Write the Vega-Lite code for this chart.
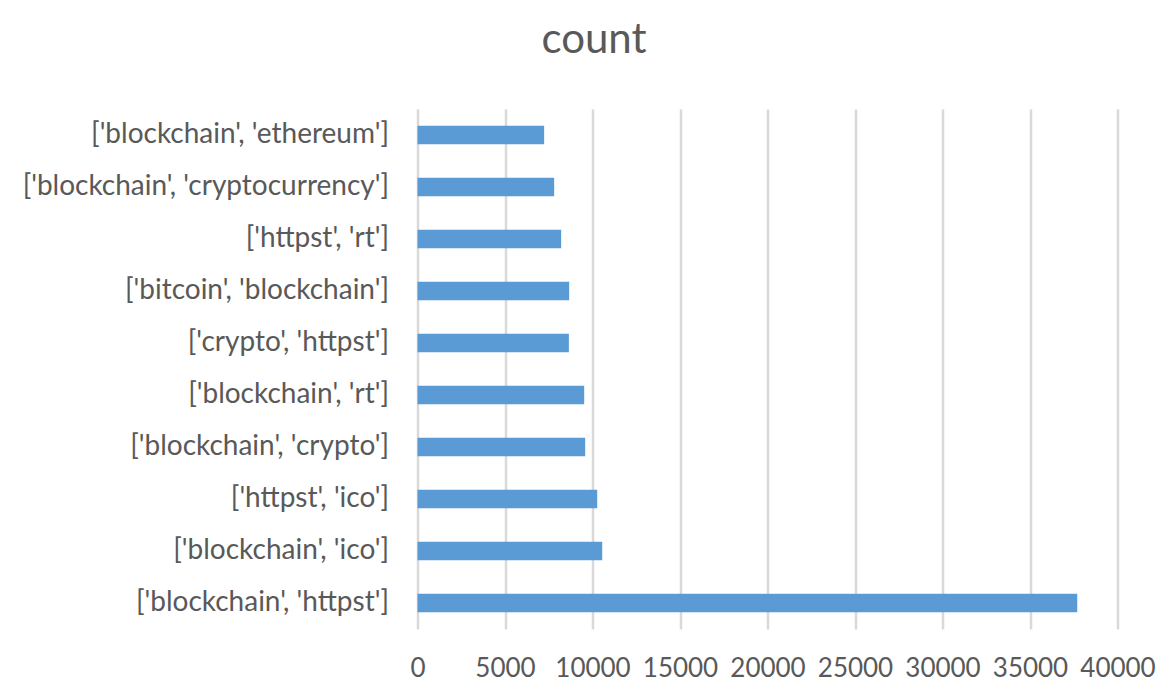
{
  "$schema": "https://vega.github.io/schema/vega-lite/v6.json",
  "width": 700,
  "height": 520,
  "autosize": "none",
  "padding": {"left": 417.5, "top": 109, "right": 56, "bottom": 61},
  "background": "white",
  "title": {
    "text": "count",
    "fontSize": 42,
    "font": "Lato",
    "fontWeight": "normal",
    "color": "#595959",
    "anchor": "middle",
    "frame": "group",
    "dx": -173.5,
    "offset": 47
  },
  "data": {
    "values": [
      {"pair": "['blockchain', 'ethereum']", "count": 7237},
      {"pair": "['blockchain', 'cryptocurrency']", "count": 7809},
      {"pair": "['httpst', 'rt']", "count": 8209},
      {"pair": "['bitcoin', 'blockchain']", "count": 8667},
      {"pair": "['crypto', 'httpst']", "count": 8650},
      {"pair": "['blockchain', 'rt']", "count": 9525},
      {"pair": "['blockchain', 'crypto']", "count": 9582},
      {"pair": "['httpst', 'ico']", "count": 10269},
      {"pair": "['blockchain', 'ico']", "count": 10555},
      {"pair": "['blockchain', 'httpst']", "count": 37700}
    ]
  },
  "mark": {"type": "bar", "color": "#5b9bd5"},
  "encoding": {
    "y": {
      "field": "pair",
      "type": "nominal",
      "sort": null,
      "title": null,
      "scale": {"paddingInner": 0.64, "paddingOuter": 0.32},
      "axis": {
        "ticks": false,
        "domain": false,
        "labelFont": "Lato",
        "labelFontSize": 28,
        "labelColor": "#595959",
        "labelPadding": 29,
        "labelLimit": 500
      }
    },
    "x": {
      "field": "count",
      "type": "quantitative",
      "title": null,
      "scale": {"domain": [0, 40000], "nice": false},
      "axis": {
        "values": [0, 5000, 10000, 15000, 20000, 25000, 30000, 35000, 40000],
        "format": "d",
        "ticks": false,
        "domain": false,
        "grid": true,
        "gridColor": "#d9d9d9",
        "gridWidth": 2.5,
        "labelOverlap": false,
        "labelFlush": false,
        "labelFont": "Lato",
        "labelFontSize": 26,
        "labelColor": "#595959",
        "labelPadding": 26
      }
    }
  },
  "config": {"view": {"stroke": null}}
}
